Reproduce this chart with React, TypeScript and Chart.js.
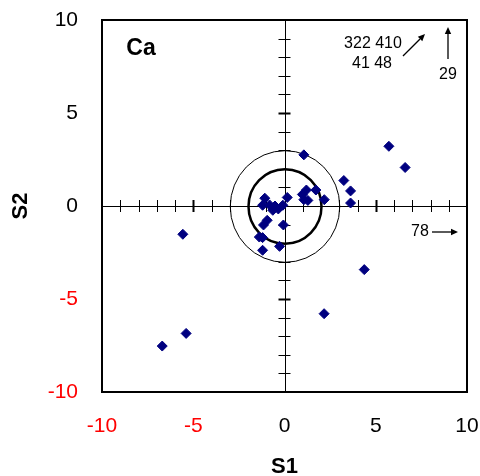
import React, { useEffect, useRef } from 'react';
import { Chart, registerables } from 'chart.js';

Chart.register(...registerables);

// Sample scores (S1, S2)
const S1 = [5.72, 6.61, 1.06, 3.25, 3.62, 3.62, 2.18, 1.72, 1.2, 0.98, 1.06, 1.28, 0.15, -1.08, -1.2, -0.82, -0.52, -0.64, -0.34, -0.09, -0.95, -1.15, -0.06, -1.38, -1.2, -1.2, -0.27, -5.57, 4.37, 2.17, -5.39, -6.7];
const S2 = [3.21, 2.07, 2.75, 1.37, 0.81, 0.16, 0.34, 0.86, 0.86, 0.62, 0.34, 0.3, 0.46, 0.42, 0.04, 0.06, 0.0, -0.23, -0.16, 0.04, -0.77, -1.02, -1.02, -1.67, -1.7, -2.38, -2.17, -1.52, -3.42, -5.79, -6.85, -7.53];

const AXIS_MIN = -10;
const AXIS_MAX = 10;
const TICK_STEP = 5;
const MINOR_STEP = 1;
const CIRCLE_RADII = [2, 3];
const X_TITLE = 'S1';
const Y_TITLE = 'S2';
const PANEL_LABEL = 'Ca';
const OFF_SCALE_UP_RIGHT = ['322 410', '41 48'];
const OFF_SCALE_UP = '29';
const OFF_SCALE_RIGHT = '78';

const FONT = "'Liberation Sans', Arial, sans-serif";
const MARK = '#000080';

function arrow(ctx: CanvasRenderingContext2D, x1: number, y1: number, x2: number, y2: number) {
  const ang = Math.atan2(y2 - y1, x2 - x1);
  const hl = 7, hw = 3.2;
  const bx = x2 - hl * Math.cos(ang);
  const by = y2 - hl * Math.sin(ang);
  ctx.beginPath();
  ctx.moveTo(x1, y1);
  ctx.lineTo(bx, by);
  ctx.lineWidth = 1.3;
  ctx.strokeStyle = '#000';
  ctx.stroke();
  ctx.beginPath();
  ctx.moveTo(x2, y2);
  ctx.lineTo(bx + hw * Math.sin(ang), by - hw * Math.cos(ang));
  ctx.lineTo(bx - hw * Math.sin(ang), by + hw * Math.cos(ang));
  ctx.closePath();
  ctx.fillStyle = '#000';
  ctx.fill();
}

const decorPlugin = {
  id: 'decor',
  beforeDatasetsDraw(chart: any) {
    const { ctx, chartArea: a, scales } = chart;
    const xs = scales.x, ys = scales.y;
    const x0 = xs.getPixelForValue(0);
    const y0 = ys.getPixelForValue(0);
    ctx.save();
    ctx.strokeStyle = '#000';
    // cross axes
    ctx.lineWidth = 1;
    ctx.beginPath();
    ctx.moveTo(Math.round(x0) + 0.5, a.top);
    ctx.lineTo(Math.round(x0) + 0.5, a.bottom);
    ctx.moveTo(a.left, Math.round(y0) + 0.5);
    ctx.lineTo(a.right, Math.round(y0) + 0.5);
    ctx.stroke();
    // tick marks along the cross axes
    for (let v = AXIS_MIN + MINOR_STEP; v < AXIS_MAX; v += MINOR_STEP) {
      if (v === 0) continue;
      const major = v % TICK_STEP === 0;
      ctx.lineWidth = major ? 2 : 1;
      const len = 6;
      const px = Math.round(xs.getPixelForValue(v)) + 0.5;
      const py = Math.round(ys.getPixelForValue(v)) + 0.5;
      ctx.beginPath();
      ctx.moveTo(px, y0 - len);
      ctx.lineTo(px, y0 + len);
      ctx.moveTo(x0 - len, py);
      ctx.lineTo(x0 + len, py);
      ctx.stroke();
    }
    // circles
    CIRCLE_RADII.forEach((r, i) => {
      const rx = Math.abs(xs.getPixelForValue(r) - x0);
      const ry = Math.abs(ys.getPixelForValue(r) - y0);
      ctx.beginPath();
      ctx.ellipse(x0 + 0.5, y0 + 0.5, rx, ry, 0, 0, Math.PI * 2);
      ctx.lineWidth = i === 0 ? 2.5 : 1;
      ctx.stroke();
    });
    ctx.restore();
  },
  afterDraw(chart: any) {
    const { ctx, chartArea: a } = chart;
    ctx.save();
    // frame
    ctx.lineWidth = 2;
    ctx.strokeStyle = '#000';
    ctx.strokeRect(a.left, a.top, a.right - a.left, a.bottom - a.top);
    // panel label
    ctx.fillStyle = '#000';
    ctx.textAlign = 'center';
    ctx.textBaseline = 'middle';
    ctx.font = `bold 23px ${FONT}`;
    ctx.fillText(PANEL_LABEL, a.left + 39, a.top + 29);
    // off-scale annotations
    ctx.font = `16px ${FONT}`;
    ctx.fillText(OFF_SCALE_UP_RIGHT[0], a.left + 271, a.top + 24);
    ctx.fillText(OFF_SCALE_UP_RIGHT[1], a.left + 270, a.top + 44);
    arrow(ctx, a.left + 301, a.top + 36, a.left + 323, a.top + 14);
    arrow(ctx, a.left + 346, a.top + 39, a.left + 346, a.top + 7);
    ctx.fillText(OFF_SCALE_UP, a.left + 346, a.top + 55);
    ctx.fillText(OFF_SCALE_RIGHT, a.left + 318, a.top + 212);
    arrow(ctx, a.left + 330, a.top + 212, a.left + 356, a.top + 212);
    ctx.restore();
  },
};

export default function App() {
  const ref = useRef<HTMLCanvasElement>(null);
  useEffect(() => {
    if (!ref.current) return;
    const points = S1.map((x, i) => ({ x, y: S2[i] }));
    const tickColor = (c: any) => (c.tick && c.tick.value < 0 ? '#ff0000' : '#000000');
    const chart = new Chart(ref.current, {
      type: 'scatter',
      data: {
        datasets: [
          {
            data: points,
            pointStyle: 'rectRot',
            pointRadius: 5,
            backgroundColor: MARK,
            borderColor: MARK,
            borderWidth: 1,
          },
        ],
      },
      options: {
        animation: false,
        responsive: false,
        maintainAspectRatio: false,
        layout: { padding: { top: 20, right: 13, bottom: 0, left: 0 } },
        plugins: { legend: { display: false }, tooltip: { enabled: false } },
        scales: {
          x: {
            type: 'linear',
            min: AXIS_MIN,
            max: AXIS_MAX,
            grid: { display: false, drawTicks: false },
            border: { display: false },
            ticks: {
              stepSize: TICK_STEP,
              padding: 22,
              maxRotation: 0,
              font: { family: FONT, size: 21 },
              color: tickColor,
            },
            title: {
              display: true,
              text: X_TITLE,
              color: '#000',
              font: { family: FONT, size: 22, weight: 'bold', lineHeight: 0.8 },
              padding: { top: 0, bottom: 0 },
            },
            afterFit: (s: any) => {
              s.height = 84;
              s.paddingLeft = 0;
              s.paddingRight = 0;
            },
          },
          y: {
            type: 'linear',
            min: AXIS_MIN,
            max: AXIS_MAX,
            grid: { display: false, drawTicks: false },
            border: { display: false },
            ticks: {
              stepSize: TICK_STEP,
              padding: 24,
              font: { family: FONT, size: 21 },
              color: tickColor,
            },
            title: {
              display: true,
              text: Y_TITLE,
              color: '#000',
              font: { family: FONT, size: 22, weight: 'bold', lineHeight: 1.2 },
              padding: { top: 8, bottom: 0 },
            },
            afterFit: (s: any) => {
              s.width = 102;
              s.paddingTop = 0;
              s.paddingBottom = 0;
            },
          },
        },
      },
      plugins: [decorPlugin],
    } as any);
    return () => chart.destroy();
  }, []);
  return (
    <div style={{ position: 'absolute', left: 0, top: 0, width: 480, height: 476, background: '#fff' }}>
      <canvas ref={ref} width={480} height={476} style={{ display: 'block' }} />
    </div>
  );
}
